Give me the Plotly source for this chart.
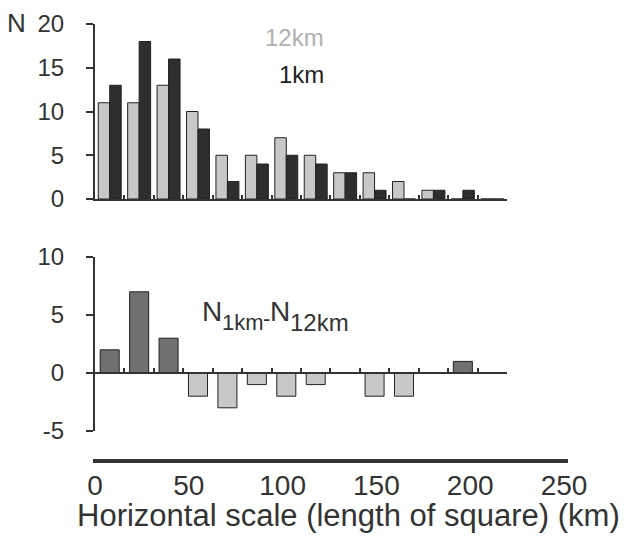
import plotly.graph_objects as go

# ---- data ----
bin_centers = [7.5, 22.5, 37.5, 52.5, 67.5, 82.5, 97.5, 112.5, 127.5, 142.5, 157.5, 172.5, 187.5, 202.5]
bin_edges = [0, 15, 30, 45, 60, 75, 90, 105, 120, 135, 150, 165, 180, 195, 210]
n_12km = [11, 11, 13, 10, 5, 5, 7, 5, 3, 3, 2, 1, 0, 0]
n_1km = [13, 18, 16, 8, 2, 4, 5, 4, 3, 1, 0, 1, 1, 0]
diff = [2, 7, 3, -2, -3, -1, -2, -1, 0, -2, -2, 0, 1, 0]
top_yticks = [0, 5, 10, 15, 20]
bot_yticks = [-5, 0, 5, 10]
bot_ytext = ["-5", "0", "5", "10"]
km_ticks = [0, 50, 100, 150, 200, 250]

W, H = 628, 540
def px(x):
    return x / W
def py(y):
    return 1 - y / H

AX = "#333333"
LIGHT = "#c8c8c8"
DARK = "#2e2e2e"
MID = "#707070"
FONT = "Liberation Sans, Arial, Helvetica, sans-serif"

fig = go.Figure()
fig.add_trace(go.Bar(x=bin_centers, y=n_12km, marker=dict(color=LIGHT, line=dict(color="#222", width=1)),
                     xaxis="x", yaxis="y", name="12km"))
fig.add_trace(go.Bar(x=bin_centers, y=n_1km, marker=dict(color=DARK, line=dict(color="#222", width=1)),
                     xaxis="x", yaxis="y", name="1km"))
diff_colors = [MID if d > 0 else LIGHT for d in diff]
fig.add_trace(go.Bar(x=bin_centers, y=diff, width=9.7,
                     marker=dict(color=diff_colors, line=dict(color="#222", width=1)),
                     xaxis="x2", yaxis="y2", name="diff"))
fig.add_trace(go.Scatter(x=[], y=[], xaxis="x3", yaxis="y3", showlegend=False))

xdom = [px(95), px(507)]
edge_axis = dict(range=[0, 210], domain=xdom, showline=True, linecolor=AX, linewidth=2,
                 ticks="inside", tickvals=bin_edges, ticklen=4, tickwidth=1.5, tickcolor=AX,
                 showticklabels=False, showgrid=False, zeroline=False)
ytick_font = dict(family=FONT, size=24, color=AX)

km_per_px = 250 / (564 - 95)
km_range = [-2 * km_per_px, (568 - 95) * km_per_px]
km_dom = [px(93), px(568)]
fig.update_layout(
    width=W, height=H,
    margin=dict(l=0, r=0, t=0, b=0, autoexpand=False),
    paper_bgcolor="white", plot_bgcolor="rgba(0,0,0,0)",
    showlegend=False,
    barmode="group", bargap=0.22, bargroupgap=0,
    xaxis=dict(edge_axis, anchor="y"),
    yaxis=dict(range=[0, 20], domain=[py(199), py(24)], anchor="x", showline=True, linecolor=AX,
               linewidth=2, ticks="outside", ticklen=7, tickwidth=1.5, tickcolor=AX,
               tickvals=top_yticks, tickfont=ytick_font, ticklabelstandoff=17,
               showgrid=False, zeroline=False),
    xaxis2=dict(edge_axis, anchor="free", position=py(373)),
    yaxis2=dict(range=[-5, 10], domain=[py(431), py(257)], anchor="x2", showline=True, linecolor=AX,
                linewidth=2, ticks="outside", ticklen=7, tickwidth=1.5, tickcolor=AX,
                tickvals=bot_yticks, ticktext=bot_ytext, tickfont=ytick_font, ticklabelstandoff=17,
                showgrid=False, zeroline=False),
    # km scale: labels from the x axis, thick line from the counter axis zero line
    xaxis3=dict(range=km_range, domain=km_dom, anchor="y3", showline=False, ticks="",
                tickvals=km_ticks, tickfont=dict(family=FONT, size=28, color=AX),
                showgrid=False, zeroline=False),
    yaxis3=dict(domain=[py(466), py(456)], range=[-1, 1], showline=False, ticks="",
                showticklabels=False, showgrid=False, zeroline=True, zerolinewidth=4,
                zerolinecolor=AX),
)

ann = []
ann.append(dict(text="Horizontal scale (length of square) (km)", x=px(348), y=py(515),
                font=dict(family=FONT, size=31, color=AX)))
ann.append(dict(text="N", x=px(16), y=py(23), font=dict(family=FONT, size=26, color=AX)))
ann.append(dict(text="12km", x=px(326), y=py(37), xanchor="right", font=dict(family=FONT, size=24, color="#b0b0b0")))
ann.append(dict(text="1km", x=px(326), y=py(75), xanchor="right", font=dict(family=FONT, size=24, color="#1e1e1e")))
# N_1km - N_12km
ann.append(dict(text="N", x=px(200), y=py(312), xanchor="left", font=dict(family=FONT, size=28, color=AX)))
ann.append(dict(text="1km", x=px(220), y=py(322), xanchor="left", font=dict(family=FONT, size=22, color=AX)))
ann.append(dict(text="-", x=px(266), y=py(318), font=dict(family=FONT, size=22, color=AX)))
ann.append(dict(text="N", x=px(268), y=py(312), xanchor="left", font=dict(family=FONT, size=28, color=AX)))
ann.append(dict(text="12km", x=px(288), y=py(322), xanchor="left", font=dict(family=FONT, size=24, color=AX)))
for a in ann:
    a.setdefault("xanchor", "center")
    a.update(xref="paper", yref="paper", yanchor="middle", showarrow=False)
fig.update_layout(annotations=ann)

fig.write_html("out.html")
